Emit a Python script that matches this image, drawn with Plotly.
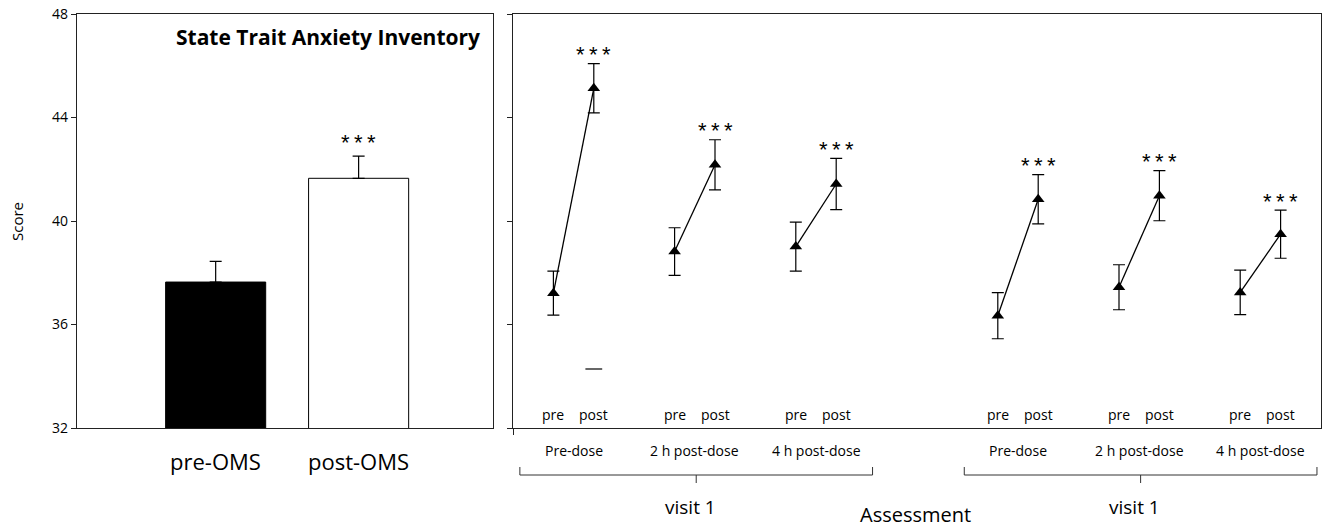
import plotly.graph_objects as go

# ---------------- data ----------------
bar_labels = ["pre-OMS", "post-OMS"]
bar_means = [37.64, 41.65]
bar_err = [0.80, 0.86]

visits = ["visit 1", "visit 1"]
timepoints = ["Pre-dose", "2 h post-dose", "4 h post-dose"]
phases = ["pre", "post"]
# score means per visit, timepoint (pre, post)
pre_means = [[37.21, 38.82, 39.01], [36.34, 37.44, 37.24]]
post_means = [[45.13, 42.17, 41.43], [40.84, 40.98, 39.49]]
pre_err = [[0.85, 0.92, 0.95], [0.89, 0.87, 0.86]]
post_err = [[0.95, 0.97, 0.99], [0.95, 0.97, 0.93]]
stray_mark = 34.28  # lone error cap under first post point
sig_label = "*\u2009*\u2009*"
y_ticks = [32, 36, 40, 44, 48]

FONT = "Open Sans"
BLACK = "#000000"

fig = go.Figure()

# ---------- left panel: bars ----------
fig.add_trace(go.Bar(
    x=bar_labels, y=bar_means, width=0.7,
    marker=dict(color=["#000000", "#ffffff"], line=dict(color=BLACK, width=1)),
    error_y=dict(type="data", symmetric=False, array=bar_err, arrayminus=[0, 0],
                 color=BLACK, thickness=1.2, width=6),
    base=0, xaxis="x", yaxis="y", showlegend=False,
))

# ---------- right panel: pre/post lines ----------
def xpos(v, t, p):
    return 1 + 11 * v + 3 * t + p

xs, ys, es = [], [], []
for v in range(2):
    for t in range(3):
        xs += [xpos(v, t, 0), xpos(v, t, 1), None]
        ys += [pre_means[v][t], post_means[v][t], None]
        es += [pre_err[v][t], post_err[v][t], None]

fig.add_trace(go.Scatter(
    x=xs, y=ys, mode="lines+markers",
    line=dict(color=BLACK, width=1.3),
    marker=dict(symbol="triangle-up", size=11, color=BLACK),
    error_y=dict(type="data", array=es, color=BLACK, thickness=1.2, width=6),
    xaxis="x2", yaxis="y2", showlegend=False, connectgaps=False,
))

fig.add_trace(go.Scatter(
    x=[xpos(0, 0, 1)], y=[stray_mark], mode="markers",
    marker=dict(symbol="line-ew", size=12, line=dict(color=BLACK, width=1.2)),
    xaxis="x2", yaxis="y2", showlegend=False,
))

W, H = 1335, 529
def px(x):
    return x / W
def py(y):
    return 1 - y / H

axis_common = dict(showline=True, linecolor="#222222", linewidth=1.3, mirror=True,
                   showgrid=False, zeroline=False, automargin=False)

fig.update_layout(
    width=W, height=H,
    margin=dict(l=0, r=0, t=0, b=0, pad=0),
    paper_bgcolor="white", plot_bgcolor="white",
    font=dict(family=FONT, color=BLACK),
    xaxis=dict(domain=[px(77), px(493)], type="category", range=[-0.97, 1.94],
               showticklabels=False, ticks="", **axis_common),
    yaxis=dict(domain=[py(428), py(14)], range=[32, 48], tickvals=y_ticks,
               ticks="outside", ticklen=5, tickcolor="#222222",
               tickfont=dict(size=14, family=FONT, color=BLACK), **axis_common),
    xaxis2=dict(domain=[px(513), px(1321)], range=[0, 20], anchor="y2",
                tickvals=[0], ticks="outside", ticklen=6, tickcolor="#222222",
                showticklabels=False, **axis_common),
    yaxis2=dict(domain=[py(428), py(14)], range=[32, 48], anchor="x2",
                tickvals=y_ticks, ticks="outside", ticklen=5, tickcolor="#222222",
                showticklabels=False, **axis_common),
)

ann = []
# title
ann.append(dict(text="<b>State Trait Anxiety Inventory</b>", xref="paper", yref="paper",
                x=px(482), y=py(37), xanchor="right", yanchor="middle", showarrow=False,
                font=dict(size=21, family=FONT, color=BLACK)))
# y title
ann.append(dict(text="Score", xref="paper", yref="paper", x=px(17), y=py(222),
                textangle=-90, showarrow=False, xanchor="center", yanchor="middle",
                font=dict(size=15, family=FONT, color=BLACK)))
# bar category labels
for lab in bar_labels:
    ann.append(dict(text=lab, xref="x", yref="paper", x=lab, y=py(461),
                    xanchor="center", yanchor="middle", showarrow=False,
                    font=dict(size=22, family=FONT, color=BLACK)))
# bar significance
ann.append(dict(text=sig_label, xref="x", yref="y", x=bar_labels[1],
                y=bar_means[1] + bar_err[1], yanchor="middle", yshift=14, showarrow=False,
                font=dict(size=22, family="Liberation Sans", color=BLACK)))

shapes = []
for v in range(2):
    for t in range(3):
        # pre / post labels inside plot
        for p, ph in enumerate(phases):
            ann.append(dict(text=ph, xref="x2", yref="paper", x=xpos(v, t, p), y=py(414),
                            xanchor="center", yanchor="middle", showarrow=False,
                            font=dict(size=14, family=FONT, color=BLACK)))
        # timepoint label
        ann.append(dict(text=timepoints[t], xref="x2", yref="paper", x=xpos(v, t, 0) + 0.5,
                        y=py(450), xanchor="center", yanchor="middle", showarrow=False,
                        font=dict(size=14, family=FONT, color=BLACK)))
        # significance stars
        ann.append(dict(text=sig_label, xref="x2", yref="y2", x=xpos(v, t, 1),
                        y=post_means[v][t] + post_err[v][t], yanchor="middle", yshift=9,
                        showarrow=False,
                        font=dict(size=22, family="Liberation Sans", color=BLACK)))
    # bracket
    x0 = xpos(v, 0, 0) - 0.83
    x1 = xpos(v, 2, 1) + 0.9
    xm = (x0 + x1) / 2
    ya, yb, yc = py(467), py(475), py(483)
    for seg in [(x0, ya, x0, yb), (x0, yb, x1, yb), (x1, yb, x1, ya), (xm, yb, xm, yc)]:
        shapes.append(dict(type="line", xref="x2", yref="paper",
                           x0=seg[0], y0=seg[1], x1=seg[2], y1=seg[3],
                           line=dict(color="#333333", width=1)))
    ann.append(dict(text=visits[v], xref="x2", yref="paper", x=xm - 0.15, y=py(507),
                    xanchor="center", yanchor="middle", showarrow=False,
                    font=dict(size=19, family=FONT, color=BLACK)))

ann.append(dict(text="Assessment", xref="paper", yref="paper", x=px(915), y=py(514),
                xanchor="center", yanchor="middle", showarrow=False,
                font=dict(size=20, family=FONT, color=BLACK)))

fig.update_layout(annotations=ann, shapes=shapes)

fig.write_html("out.html")
